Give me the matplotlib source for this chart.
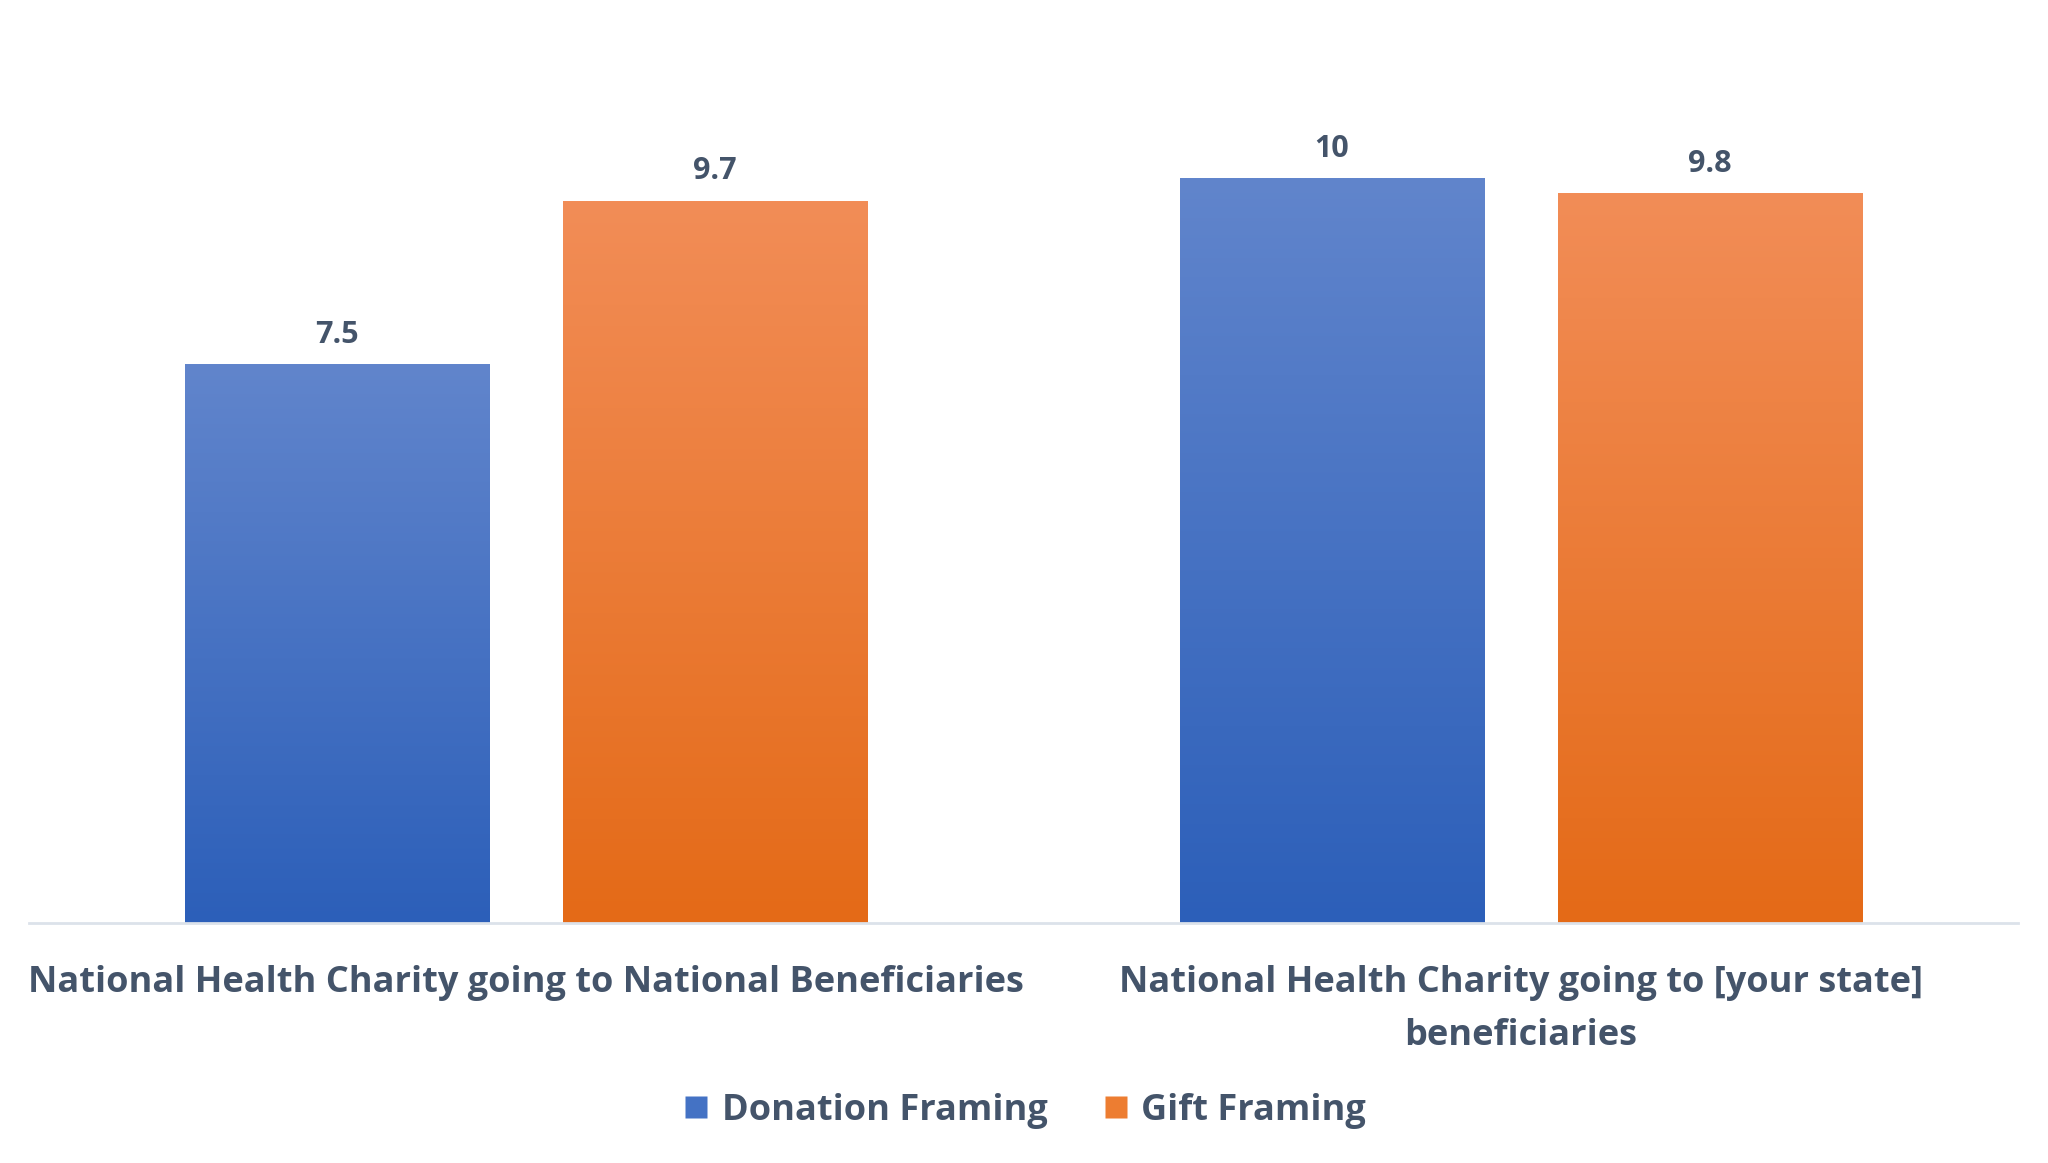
import numpy as np
import matplotlib.pyplot as plt
from matplotlib.lines import Line2D

categories = ['National Health Charity going to National Beneficiaries',
              'National Health Charity going to [your state]\nbeneficiaries']
series_names = ['Donation Framing', 'Gift Framing']
donation = [7.5, 10]
gift = [9.7, 9.8]

text_color = '#44546A'
# gradient colours (top, bottom) for each series
grad = {
    'Donation Framing': ('#6185CC', '#2C5FB9'),
    'Gift Framing': ('#F28D57', '#E46A17'),
}
legend_color = {'Donation Framing': '#4472C4', 'Gift Framing': '#ED7D31'}

plt.rcParams['font.family'] = ['Open Sans', 'DejaVu Sans']

fig = plt.figure(figsize=(20.48, 11.63), dpi=100)
ax = fig.add_axes([0.0142, 0.2064, 0.9712, 0.768])

x = np.arange(len(categories))
width = 0.306
offset = 0.19


def gradient_bar(ax, patch, top, bottom):
    x0, y0 = patch.get_x(), patch.get_y()
    w, h = patch.get_width(), patch.get_height()
    c1 = np.array(plt.matplotlib.colors.to_rgb(top))
    c2 = np.array(plt.matplotlib.colors.to_rgb(bottom))
    t = np.linspace(0, 1, 256)[:, None]
    img = (c1 * (1 - t) + c2 * t)[:, None, :]
    ax.imshow(img, extent=(x0, x0 + w, y0, y0 + h), aspect='auto',
              origin='upper', zorder=2, interpolation='bilinear')


for vals, name, off in [(donation, series_names[0], -offset), (gift, series_names[1], offset)]:
    bars = ax.bar(x + off, vals, width, color='none', edgecolor='none', zorder=1)
    for b, v in zip(bars, vals):
        gradient_bar(ax, b, *grad[name])
        ax.text(b.get_x() + b.get_width() / 2, v + 0.2, f'{v:g}', ha='center', va='bottom',
                fontsize=22, fontweight='bold', color=text_color)

ax.set_xlim(-0.5, 1.5)
ax.set_ylim(0, 12)
ax.set_yticks([])
ax.set_xticks(x)
ax.set_xticklabels(categories, fontsize=26, fontweight='bold', color=text_color,
                   ha='center', va='top', linespacing=1.65)
ax.tick_params(axis='x', length=0, pad=30)
for s in ['top', 'right', 'left']:
    ax.spines[s].set_visible(False)
ax.spines['bottom'].set_color('#DCE2EA')
ax.spines['bottom'].set_linewidth(2)

handles = [Line2D([], [], marker='s', linestyle='none', markersize=16,
                  markerfacecolor=legend_color[n], markeredgecolor='none') for n in series_names]
leg = fig.legend(handles, series_names, loc='center', bbox_to_anchor=(0.5, 0.045), ncol=2,
                 frameon=False, fontsize=26, handlelength=0.8, handletextpad=0.3,
                 columnspacing=1.5)
for t in leg.get_texts():
    t.set_color(text_color)
    t.set_fontweight('bold')

fig.savefig('out.png', dpi=100, facecolor='white')
